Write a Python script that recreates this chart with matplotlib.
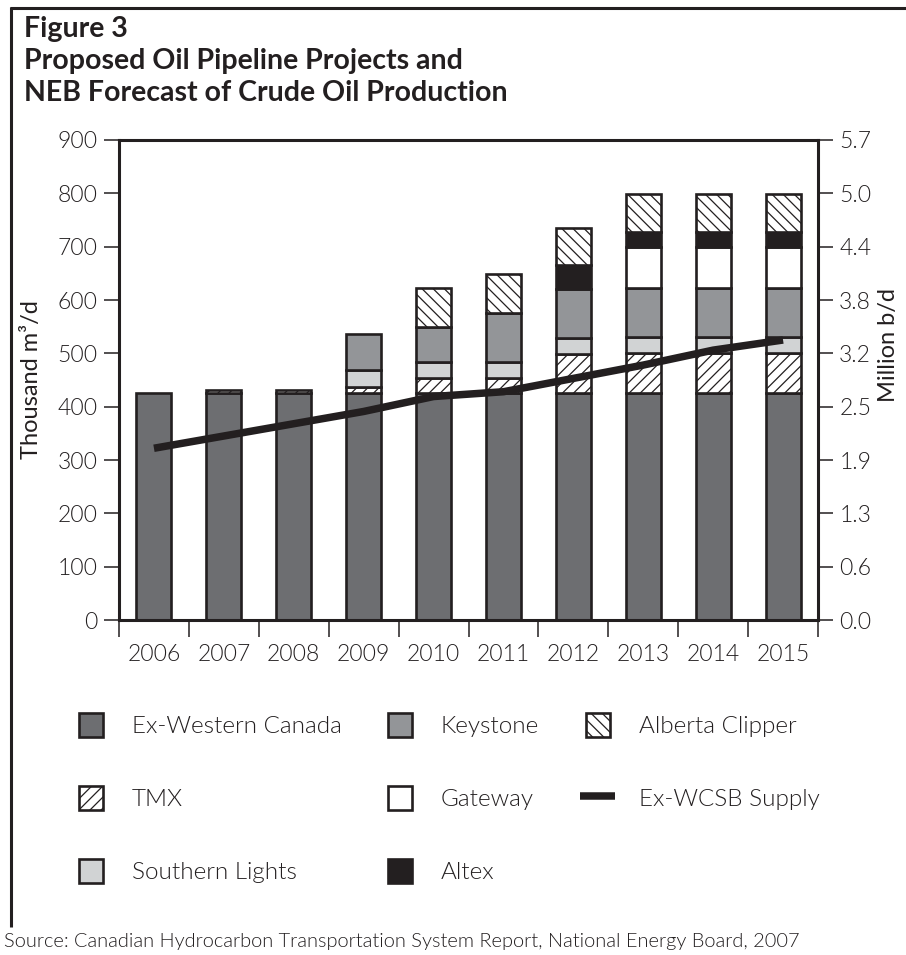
import numpy as np
import matplotlib
matplotlib.use("Agg")
import matplotlib.pyplot as plt
from matplotlib.patches import Patch, Rectangle
from matplotlib.lines import Line2D
from matplotlib.legend_handler import HandlerPatch

# ---------------- data ----------------
years = ["2006", "2007", "2008", "2009", "2010", "2011", "2012", "2013", "2014", "2015"]
ex_western_canada = [425, 425, 425, 425, 425, 425, 425, 425, 425, 425]
tmx = [0, 6, 6, 11, 28, 28, 74, 75, 75, 75]
southern_lights = [0, 0, 0, 32, 30, 30, 29, 30, 30, 30]
keystone = [0, 0, 0, 69, 67, 92, 92, 92, 92, 92]
gateway = [0, 0, 0, 0, 0, 0, 0, 78, 78, 78]
altex = [0, 0, 0, 0, 0, 0, 45, 28, 28, 28]
alberta_clipper = [0, 0, 0, 0, 73, 73, 70, 70, 70, 70]
ex_wcsb_supply = [322, 345, 368, 391, 419, 428, 453, 478, 506, 525]

left_ticks = [0, 100, 200, 300, 400, 500, 600, 700, 800, 900]
right_tick_labels = ["0.0", "0.6", "1.3", "1.9", "2.5", "3.2", "3.8", "4.4", "5.0", "5.7"]

# ---------------- style ----------------
INK = "#231f20"
FONT = "Lato"
LIGHT = 300
plt.rcParams["font.family"] = [FONT, "DejaVu Sans"]
plt.rcParams["hatch.linewidth"] = 0.9
plt.rcParams["text.color"] = INK

W, H = 906, 955
fig = plt.figure(figsize=(W / 100, H / 100), dpi=100)

def fx(px):
    return px / W

def fy(py):
    return 1 - py / H

ax = fig.add_axes([fx(119), fy(620), fx(818) - fx(119), fy(140) - fy(620)])

series = [
    ("Ex-Western Canada", ex_western_canada, "#6d6e71", None),
    ("TMX", tmx, "white", "///"),
    ("Southern Lights", southern_lights, "#d1d3d4", None),
    ("Keystone", keystone, "#939598", None),
    ("Gateway", gateway, "white", None),
    ("Altex", altex, INK, None),
    ("Alberta Clipper", alberta_clipper, "white", "\\\\\\"),
]

x = np.arange(len(years))
bottom = np.zeros(len(years))
EDGE_LW = 1.9
handles = {}
for name, vals, color, hatch in series:
    v = np.asarray(vals, dtype=float)
    m = v > 0
    ax.bar(x[m], v[m], bottom=bottom[m], width=0.5, color=color,
           edgecolor=INK, linewidth=EDGE_LW, hatch=hatch, zorder=2)
    bottom += v
    handles[name] = Patch(facecolor=color, edgecolor=INK, linewidth=EDGE_LW, hatch=hatch)

ax.plot(x, ex_wcsb_supply, color=INK, linewidth=5.4, solid_capstyle="butt", zorder=4)
handles["Ex-WCSB Supply"] = Line2D([], [], color=INK, linewidth=5.4, solid_capstyle="butt")

ax.set_xlim(-0.5, len(years) - 0.5)
ax.set_ylim(0, 900)

for s in ax.spines.values():
    s.set_linewidth(2.2)
    s.set_color(INK)

ax.set_yticks(left_ticks)
ax.set_yticklabels([str(t) for t in left_ticks])
ax.tick_params(axis="y", direction="out", length=10.8, width=1.1, color=INK,
               labelsize=16.5, labelcolor=INK, pad=4.5)
for lab in ax.get_yticklabels():
    lab.set_fontweight(LIGHT)

ax.set_xticks(np.arange(-0.5, len(years)), labels=[""] * (len(years) + 1))
ax.set_xticks(x, labels=years, minor=True)
ax.tick_params(axis="x", which="major", direction="out", length=12.2, width=1.1, color=INK)
ax.tick_params(axis="x", which="minor", length=0, labelsize=16.5, labelcolor=INK, pad=17)
for lab in ax.get_xticklabels(minor=True):
    lab.set_fontweight(LIGHT)

ax.set_ylabel("Thousand m³/d", fontsize=17, color=INK, va="center")
ax.yaxis.set_label_coords(-0.1245, 0.5)

ax2 = ax.twinx()
ax2.set_ylim(ax.get_ylim())
ax2.set_yticks(left_ticks)
ax2.set_yticklabels(right_tick_labels)
ax2.tick_params(axis="y", direction="out", length=10.8, width=1.1, color=INK,
                labelsize=16.5, labelcolor=INK, pad=4.5)
for lab in ax2.get_yticklabels():
    lab.set_fontweight(LIGHT)
for s in ax2.spines.values():
    s.set_visible(False)
ax2.set_ylabel("Million b/d", fontsize=17, color=INK, va="center", rotation=90)
ax2.yaxis.set_label_coords((888 - 119) / 699, (620 - 345) / 480)

# ---------------- legend ----------------
def square_patch(legend, orig_handle, xdescent, ydescent, width, height, fontsize):
    w = height
    return Rectangle((-xdescent + (width - w) / 2, -ydescent), w, height)

order = ["Ex-Western Canada", "TMX", "Southern Lights", "Keystone", "Gateway",
         "Altex", "Alberta Clipper", "Ex-WCSB Supply"]
leg = fig.legend([handles[n] for n in order], order, ncol=3,
                 loc="upper left", bbox_to_anchor=(fx(73.5), fy(713)),
                 frameon=False, fontsize=17.5, handlelength=1.44, handleheight=1.15,
                 handletextpad=0.95, labelspacing=2.0, columnspacing=1.7,
                 borderpad=0, borderaxespad=0,
                 handler_map={Patch: HandlerPatch(patch_func=square_patch)})
for t in leg.get_texts():
    t.set_fontweight(LIGHT)
    t.set_color(INK)

# ---------------- title, frame, source ----------------
fig.text(fx(24), fy(16), "Figure 3\nProposed Oil Pipeline Projects and\nNEB Forecast of Crude Oil Production",
         fontsize=20.5, fontweight="bold", color=INK, ha="left", va="top", linespacing=1.28)

fig.add_artist(Line2D([fx(10), 1.0], [fy(8), fy(8)], color=INK, linewidth=2.2,
                      solid_capstyle="butt"))
fig.add_artist(Line2D([fx(11), fx(11)], [fy(7), fy(927)], color=INK, linewidth=2.2,
                      solid_capstyle="butt"))

fig.text(fx(4), fy(947), "Source: Canadian Hydrocarbon Transportation System Report, National Energy Board, 2007",
         fontsize=14.4, fontweight=LIGHT, color=INK, ha="left", va="baseline")

fig.savefig("out.png", dpi=100)
